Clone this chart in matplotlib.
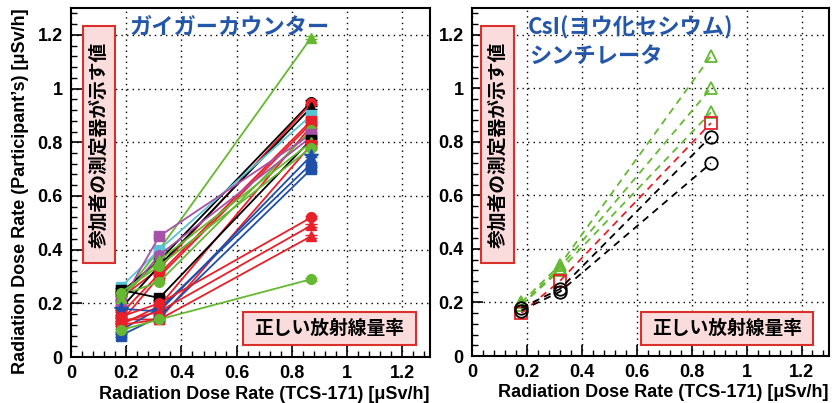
import matplotlib
matplotlib.use("Agg")
import matplotlib.pyplot as plt
from matplotlib.patches import Rectangle
from matplotlib.ticker import MultipleLocator

# reference dose rates (TCS-171), same for every participant
X_POINTS = [0.18, 0.32, 0.87]

# Geiger counters: colour, marker, readings at the three points
GM_COLORS = ["green", "black", "red", "black", "cyan", "red", "red", "red",
             "green", "magenta", "magenta", "black", "green", "red", "green",
             "blue", "blue", "blue", "red", "red", "red", "green"]
GM_MARKERS = ["^", "o", "o", "^", "s", "s", "^", "o",
              "o", "s", "o", "s", "^", "s", "o",
              "*", "s", "o", "o", "^", "^", "o"]
GM_VALUES = [
    [0.22, 0.40, 1.19],
    [0.24, 0.36, 0.95],
    [0.22, 0.33, 0.945],
    [0.18, 0.34, 0.93],
    [0.26, 0.40, 0.90],
    [0.16, 0.31, 0.88],
    [0.13, 0.30, 0.87],
    [0.12, 0.19, 0.86],
    [0.23, 0.28, 0.845],
    [0.20, 0.45, 0.83],
    [0.21, 0.38, 0.82],
    [0.25, 0.22, 0.81],
    [0.22, 0.36, 0.80],
    [0.14, 0.14, 0.79],
    [0.24, 0.34, 0.78],
    [0.18, 0.17, 0.75],
    [0.08, 0.15, 0.70],
    [0.10, 0.18, 0.72],
    [0.15, 0.20, 0.52],
    [0.13, 0.17, 0.49],
    [0.12, 0.14, 0.45],
    [0.10, 0.14, 0.29],
]

# CsI scintillators
CSI_COLORS = ["green", "green", "green", "red", "black", "black"]
CSI_MARKERS = ["^", "^", "^", "s", "o", "o"]
CSI_VALUES = [
    [0.20, 0.34, 1.12],
    [0.19, 0.33, 1.00],
    [0.19, 0.32, 0.91],
    [0.16, 0.28, 0.87],
    [0.18, 0.25, 0.82],
    [0.17, 0.24, 0.72],
]

PALETTE = {"red": "#e8202a", "green": "#66b832", "blue": "#1f4fa8",
           "black": "#000000", "magenta": "#a652a6", "cyan": "#5bc2d6"}

JP = ["Noto Sans CJK JP", "DejaVu Sans"]
SANS = ["Liberation Sans", "DejaVu Sans"]
BLUE_TEXT = "#2457a8"
BOX_FACE = "#fbdcdc"
BOX_EDGE = "#d9302c"
TICKS = [0, 0.2, 0.4, 0.6, 0.8, 1.0, 1.2]
TICK_LABELS = ["0", "0.2", "0.4", "0.6", "0.8", "1", "1.2"]


def style_axes(ax):
    ax.set_xlim(0, 1.3)
    ax.set_ylim(0, 1.3)
    ax.xaxis.set_minor_locator(MultipleLocator(0.04))
    ax.yaxis.set_minor_locator(MultipleLocator(0.04))
    ax.tick_params(which="both", direction="in", top=False, right=False)
    ax.tick_params(which="major", length=8, width=1.2, labelsize=13, pad=6)
    ax.tick_params(which="minor", length=4, width=1.0)
    ax.set_xticks(TICKS)
    ax.set_xticklabels(TICK_LABELS, family=SANS, weight="bold")
    ax.set_yticks(TICKS)
    ax.set_yticklabels(TICK_LABELS, family=SANS, weight="bold")
    ax.grid(True, which="major", linestyle=(0, (1, 3)), color="black",
            linewidth=1.0)
    ax.set_axisbelow(True)
    for sp in ax.spines.values():
        sp.set_linewidth(1.5)


def add_box(ax, x0, y0, x1, y1, text, vertical=False):
    ax.add_patch(Rectangle((x0, y0), x1 - x0, y1 - y0, transform=ax.transAxes,
                           facecolor=BOX_FACE, edgecolor=BOX_EDGE,
                           linewidth=1.5, zorder=5))
    ax.text((x0 + x1) / 2, (y0 + y1) / 2, text, transform=ax.transAxes,
            rotation=90 if vertical else 0, ha="center", va="center",
            fontsize=13.5, family=JP, weight="bold", zorder=6)


def main():
    fig = plt.figure(figsize=(8.37, 4.03), dpi=100)
    ax1 = fig.add_axes([0.0848, 0.1141, 0.4289, 0.8660])
    ax2 = fig.add_axes([0.5639, 0.1166, 0.4265, 0.8635])

    for c, m, vals in zip(GM_COLORS, GM_MARKERS, GM_VALUES):
        col = PALETTE[c]
        ms = 10 if m == "*" else 7
        ax1.errorbar(X_POINTS, vals, yerr=0.006, color=col, marker=m,
                     markersize=ms, linewidth=1.3, capsize=4, elinewidth=1.0,
                     zorder=3)

    for c, m, vals in zip(CSI_COLORS, CSI_MARKERS, CSI_VALUES):
        col = PALETTE[c]
        ax2.plot(X_POINTS, vals, color=col, marker=m, markersize=9,
                 markerfacecolor="none", markeredgewidth=1.3,
                 linestyle=(0, (4, 3)), linewidth=1.3, zorder=3)

    for ax in (ax1, ax2):
        style_axes(ax)

    add_box(ax1, 0.033, 0.269, 0.123, 0.948, "参加者の測定器が示す値", vertical=True)
    add_box(ax1, 0.479, 0.034, 0.961, 0.129, "正しい放射線量率")
    add_box(ax2, 0.025, 0.267, 0.118, 0.948, "参加者の測定器が示す値", vertical=True)
    add_box(ax2, 0.473, 0.032, 0.955, 0.126, "正しい放射線量率")

    ax1.text(0.164, 0.946, "ガイガーカウンター", transform=ax1.transAxes,
             ha="left", va="center", fontsize=16, color=BLUE_TEXT,
             family=JP, weight="bold", zorder=6)
    ax2.text(0.157, 0.943, "CsI(ヨウ化セシウム)", transform=ax2.transAxes,
             ha="left", va="center", fontsize=16, color=BLUE_TEXT,
             family=JP, weight="bold", zorder=6)
    ax2.text(0.160, 0.859, "シンチレータ", transform=ax2.transAxes,
             ha="left", va="center", fontsize=16, color=BLUE_TEXT,
             family=JP, weight="bold", zorder=6)

    xlabel = "Radiation Dose Rate (TCS-171) [μSv/h]"
    fig.text(0.5137, 0.022, xlabel, ha="right", va="center", fontsize=13,
             family=SANS, weight="bold")
    fig.text(0.9904, 0.025, xlabel, ha="right", va="center", fontsize=13,
             family=SANS, weight="bold")
    fig.text(0.024, 0.98, "Radiation Dose Rate (Participant’s) [μSv/h]",
             rotation=90, ha="center", va="top", fontsize=13,
             family=SANS, weight="bold")

    fig.savefig("out.png", dpi=100)


if __name__ == "__main__":
    main()
